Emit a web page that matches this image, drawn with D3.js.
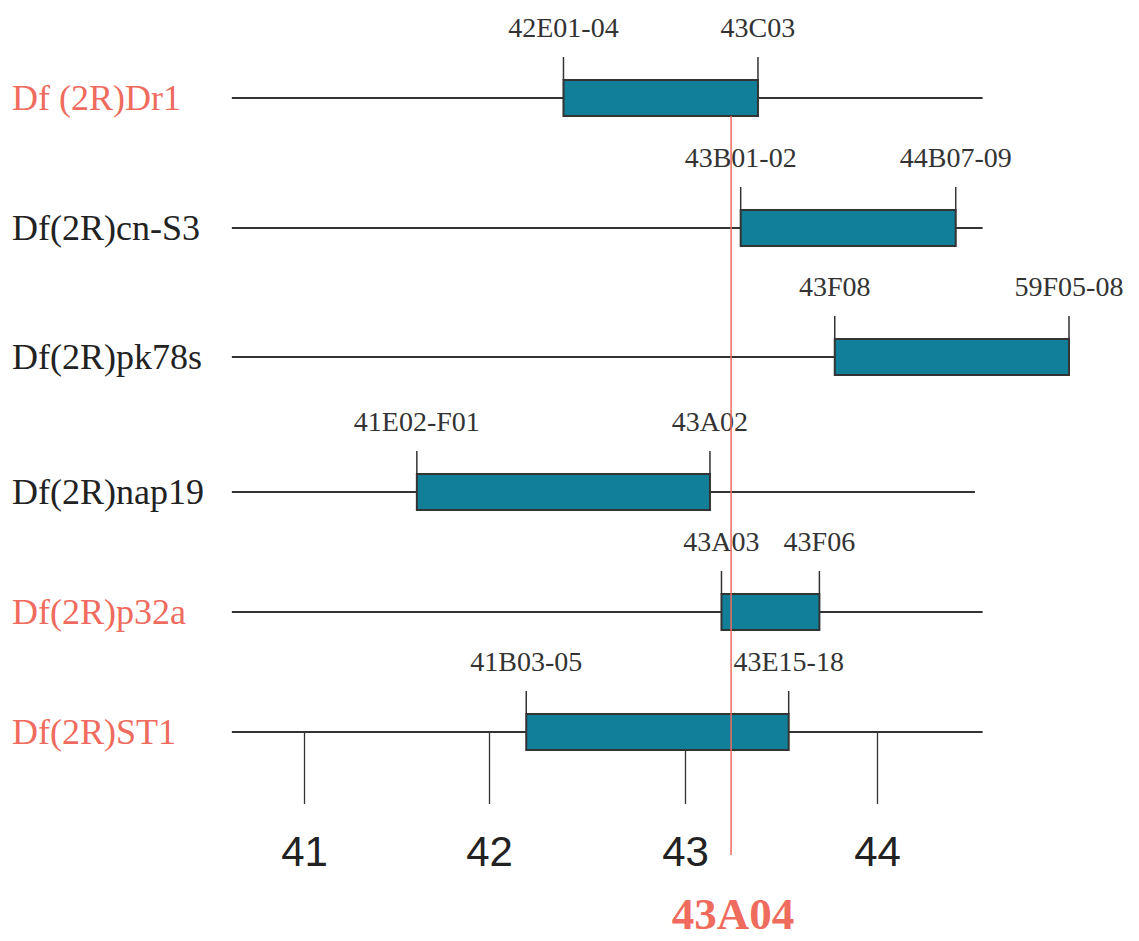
<!DOCTYPE html>
<html>
<head>
<meta charset="utf-8">
<script src="https://cdn.jsdelivr.net/npm/d3@7"></script>
<style>
  body { margin: 0; background: #fff; }
  svg { display: block; }
</style>
</head>
<body>
<svg id="canvas"></svg>
<script>
// deficiencies, top to bottom
let rows = ['Df (2R)Dr1', 'Df(2R)cn-S3', 'Df(2R)pk78s', 'Df(2R)nap19', 'Df(2R)p32a', 'Df(2R)ST1']
let highlighted = [true, false, false, false, true, true]

// breakpoints (cytological bands) and their positions on the map
let startBand = ['42E01-04', '43B01-02', '43F08', '41E02-F01', '43A03', '41B03-05']
let endBand = ['43C03', '44B07-09', '59F05-08', '43A02', '43F06', '43E15-18']
let startPos = [42.38, 43.29, 43.78, 41.61, 43.19, 42.19]
let endPos = [43.38, 44.41, 45.0, 43.13, 43.70, 43.54]

// chromosome arm drawn on each row
let armStart = [40.61, 40.61, 40.61, 40.61, 40.61, 40.61]
let armEnd = [44.55, 44.55, 45.0, 44.51, 44.55, 44.55]

let tickValues = [41, 42, 43, 44]
let markerPos = 43.24
let markerLabel = '43A04'

let width = 1139
let height = 941

let red = '#ef6b5d'
let teal = '#127f99'
let ink = '#333'

let svg = d3.select('#canvas')
    .attr('width', width)
    .attr('height', height)

let xScale = d3.scaleLinear()
    .domain(tickValues)
    .range([304, 489, 685, 877])

let yScale = d3.scaleOrdinal()
    .domain(rows)
    .range([98, 228, 357, 492, 612, 732])

let data = rows.map((name, i) => {
    return {
        name: name,
        hi: highlighted[i],
        s: startPos[i], e: endPos[i],
        sb: startBand[i], eb: endBand[i],
        a0: armStart[i], a1: armEnd[i]
    }
})

// axis under the last row
let xAxis = d3.axisBottom(xScale)
    .tickValues(tickValues)
    .tickFormat(d3.format('d'))
    .tickSize(72)
    .tickPadding(32)

let axisG = svg.append('g')
    .attr('transform', 'translate(0,' + yScale(rows[rows.length - 1]) + ')')
    .call(xAxis)
axisG.select('.domain').remove()
axisG.selectAll('.tick line')
    .attr('stroke', ink)
    .attr('stroke-width', 1.3)
axisG.selectAll('.tick text')
    .attr('fill', '#222')
    .style('font-family', '"Liberation Sans", Arial, sans-serif')
    .style('font-size', '42px')

let rowG = svg.selectAll('g.row')
    .data(data)
    .enter()
    .append('g')
    .attr('class', 'row')
    .attr('transform', (d) => 'translate(0,' + yScale(d.name) + ')')

rowG.append('text')
    .attr('x', 12)
    .attr('y', 12)
    .attr('fill', (d) => d.hi ? red : '#222')
    .style('font-family', '"Liberation Serif", "Times New Roman", serif')
    .style('font-size', '36px')
    .text((d) => d.name)

rowG.append('line')
    .attr('x1', (d) => xScale(d.a0))
    .attr('x2', (d) => xScale(d.a1))
    .attr('stroke', ink)
    .attr('stroke-width', 2)

rowG.append('rect')
    .attr('x', (d) => xScale(d.s))
    .attr('y', -18)
    .attr('width', (d) => xScale(d.e) - xScale(d.s))
    .attr('height', 36)
    .attr('fill', teal)
    .attr('stroke', ink)
    .attr('stroke-width', 2)

rowG.selectAll('line.bp')
    .data((d) => [d.s, d.e])
    .enter()
    .append('line')
    .attr('class', 'bp')
    .attr('x1', (v) => xScale(v))
    .attr('x2', (v) => xScale(v))
    .attr('y1', -41)
    .attr('y2', -18)
    .attr('stroke', ink)
    .attr('stroke-width', 1.5)

rowG.selectAll('text.bp')
    .data((d) => [[d.s, d.sb], [d.e, d.eb]])
    .enter()
    .append('text')
    .attr('class', 'bp')
    .attr('x', (v) => xScale(v[0]))
    .attr('y', -61)
    .attr('text-anchor', 'middle')
    .attr('fill', ink)
    .style('font-family', '"Liberation Serif", "Times New Roman", serif')
    .style('font-size', '28px')
    .text((v) => v[1])

// the 43A04 marker
svg.append('line')
    .attr('x1', xScale(markerPos))
    .attr('x2', xScale(markerPos))
    .attr('y1', yScale(rows[0]) + 18)
    .attr('y2', 855)
    .attr('stroke', red)
    .attr('stroke-width', 1.5)

svg.append('text')
    .attr('x', xScale(markerPos) + 2)
    .attr('y', 929)
    .attr('text-anchor', 'middle')
    .attr('fill', red)
    .style('font-family', '"Liberation Serif", "Times New Roman", serif')
    .style('font-size', '45px')
    .style('font-weight', 'bold')
    .text(markerLabel)
</script>
</body>
</html>
